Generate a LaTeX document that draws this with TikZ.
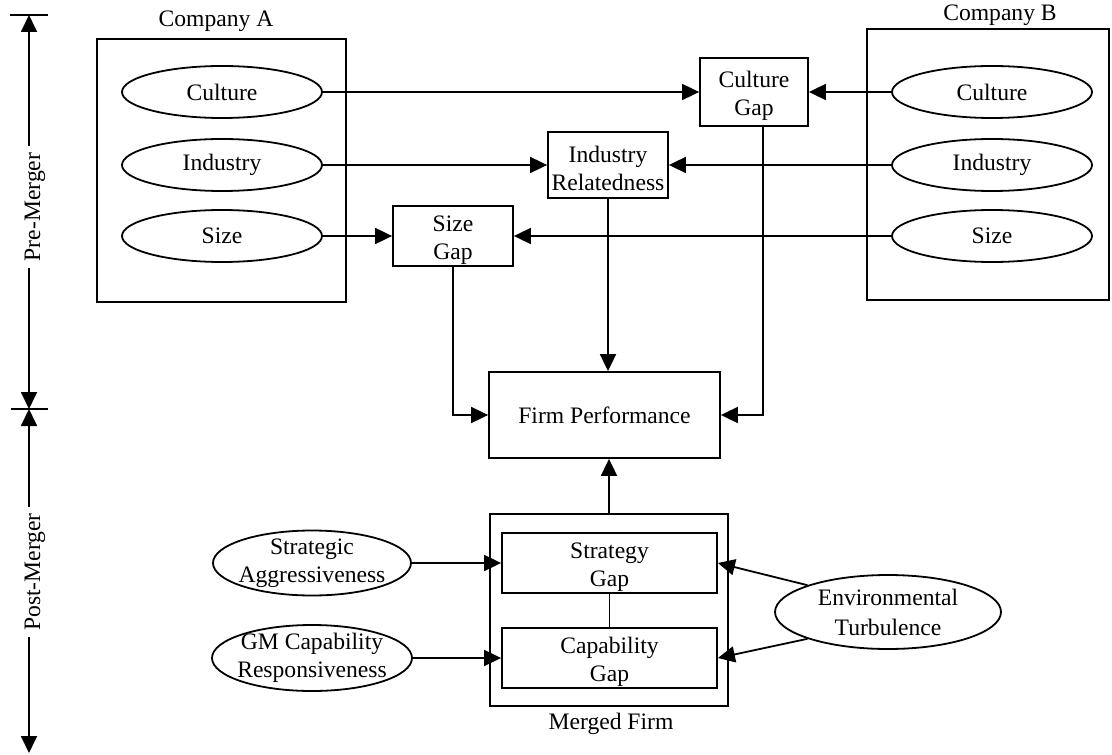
\documentclass[tikz,border=0pt]{standalone}
\usepackage{fontspec}
\setmainfont{Liberation Serif}
\usetikzlibrary{arrows.meta,calc,shapes.geometric}
\newcommand\toplift{\rule{0pt}{12pt}}
\begin{document}
\begin{tikzpicture}[x=0.5pt,y=-0.5pt,
  every node/.style={font=\fontsize{11.8}{14}\selectfont, align=center, inner sep=0pt},
  box/.style={draw, line width=0.9pt, rectangle},
  oval/.style={draw, line width=0.9pt, ellipse, inner xsep=-8pt, inner ysep=-5pt},
  conn/.style={line width=0.9pt, -{Triangle[length=8.5pt,width=8pt]}},
  plain/.style={line width=0.9pt},
  axlbl/.style={rotate=90, inner xsep=3pt}]
\useasboundingbox (0,0) rectangle (1112,754);

% left axis
\coordinate (axtop) at (29,15);
\coordinate (axmid) at (29,409);
\coordinate (axbot) at (29,753);
\node[axlbl] (pre) at (35,207) {Pre-Merger};
\node[axlbl] (post) at (35,572) {Post-Merger};
\draw[plain] ([xshift=-9.5pt]axtop) -- ([xshift=9.5pt]axtop);
\draw[plain] ([xshift=-9pt]axmid) -- ([xshift=9.5pt]axmid);
\draw[conn] (axtop |- pre.east) -- (axtop);
\draw[conn] (axtop |- pre.west) -- (axmid);
\draw[conn] (axtop |- post.east) -- (axmid);
\draw[conn] (axtop |- post.west) -- (axbot);

% company boxes
\node[box, minimum width=124.5pt, minimum height=131.5pt] (compA) at (221.5,170.5) {};
\node[box, minimum width=121pt, minimum height=135.5pt] (compB) at (988,164.5) {};
\node (labA) at (216,21) {Company A};
\node (labB) at (1000,15) {Company B};

% ellipses
\node[oval, minimum width=100pt, minimum height=26pt] (cultA) at (222,92) {Culture};
\node[oval, minimum width=100pt, minimum height=26pt] (indA) at (222,165) {Industry};
\node[oval, minimum width=100pt, minimum height=26pt] (sizeA) at (222,236) {Size};
\node[oval, minimum width=100pt, minimum height=26pt] (cultB) at (992,92) {Culture};
\node[oval, minimum width=100pt, minimum height=26pt] (indB) at (992,165) {Industry};
\node[oval, minimum width=100pt, minimum height=26pt] (sizeB) at (992,236) {Size};

% gap boxes
\node[box, minimum width=54pt, minimum height=34pt] (culgap) at (754,92) {\toplift Culture\\Gap};
\node[box, minimum width=60pt, minimum height=33pt] (indrel) at (608,165) {\toplift Industry\\Relatedness};
\node[box, minimum width=60pt, minimum height=30pt] (sizegap) at (453,236) {\toplift Size\\Gap};
\node[box, minimum width=115.5pt, minimum height=43pt] (fp) at (604.5,415) {Firm Performance};

% merged firm
\node[box, minimum width=119pt, minimum height=96pt] (merged) at (609,610) {};
\node[box, minimum width=107.5pt, minimum height=30pt] (stratgap) at (609.5,563) {\toplift Strategy\\Gap};
\node[box, minimum width=107.5pt, minimum height=30pt] (capgap) at (609.5,658) {\toplift Capability\\Gap};
\node (mlab) at (611,724) {Merged Firm};

\node[oval, minimum width=99pt, minimum height=32.5pt] (stragg) at (312,563) {Strategic\\Aggressiveness};
\node[oval, minimum width=100pt, minimum height=33pt] (gmcap) at (312,658) {GM Capability\\Responsiveness};
\node[oval, minimum width=113pt, minimum height=37pt] (env) at (888,612) {Environmental\\[1pt]Turbulence};

% connectors
\draw[conn] (cultA.east) -- (culgap.west);
\draw[conn] (cultB.west) -- (culgap.east);
\draw[conn] (indA.east) -- (indrel.west);
\draw[conn] (indB.west) -- (indrel.east);
\draw[conn] (sizeA.east) -- (sizegap.west);
\draw[conn] (sizeB.west) -- (sizegap.east);
\draw[conn] (sizegap.south) |- (fp.west);
\draw[conn] (indrel.south) -- (indrel.south |- fp.north);
\draw[conn] ([xshift=4.5pt]culgap.south) |- (fp.east);
\draw[conn] (merged.north) -- (merged.north |- fp.south);
\draw[plain] (stratgap.south) -- (capgap.north);
\draw[conn] (stragg.east) -- (stratgap.west);
\draw[conn] (gmcap.east) -- (capgap.west);
\draw[conn] (env.north west) -- (stratgap.east);
\draw[conn] (env.south west) -- (capgap.east);
\end{tikzpicture}
\end{document}
